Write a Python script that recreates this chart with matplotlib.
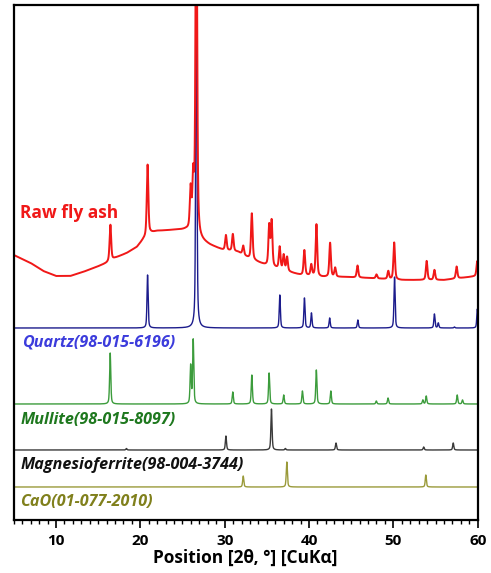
import numpy as np
import matplotlib.pyplot as plt
from matplotlib.ticker import MultipleLocator

plt.rcParams['font.family'] = ['Open Sans', 'DejaVu Sans']

# raw fly ash: background points and peaks (2theta, height above background)
ash_bg_x = [5, 7, 8.5, 10, 11.7, 13.2, 14.8, 16, 17, 18.4, 19.6, 20.3, 21.2, 22, 24, 25.4,
            26.6, 27.1, 28.25, 29.8, 31.6, 32.8, 34.8, 36, 38.1, 39, 41.5, 44, 47, 51, 56, 59, 60]
ash_bg_y = [265, 257, 249, 244, 244, 248, 253, 257, 262, 267, 273, 280, 287, 289, 290, 290,
            287, 280, 275, 270, 268, 262, 255, 252, 247, 245, 243, 243, 242, 240, 240, 243, 244]
ash_pos = [16.45, 20.86, 25.96, 26.27, 26.64, 30.15, 30.97, 32.2, 33.22, 35.28, 35.57, 36.52,
           37.0, 37.4, 39.45, 40.27, 40.88, 42.5, 43.1, 45.75, 48.0, 49.4, 50.1, 53.95,
           54.87, 57.5, 59.95]
ash_h = [36, 71, 40, 50, 400, 15, 17, 9, 46, 40, 45, 22,
         15, 14, 25, 11, 52, 34, 9, 12, 4, 8, 37, 19,
         10, 12, 15]

# reference patterns
quartz_pos = [20.86, 26.64, 36.54, 39.46, 40.29, 42.45, 45.79, 50.14, 54.87, 55.33, 57.24, 59.96]
quartz_h = [53, 400, 33, 30, 15, 10, 8, 51, 14, 5, 1, 19]

mullite_pos = [16.43, 25.97, 26.27, 30.96, 33.22, 35.27, 37.0, 39.22, 40.87, 42.59,
               47.98, 49.37, 53.5, 53.9, 57.57, 58.2]
mullite_h = [51, 38, 64, 12, 29, 31, 9, 13, 34, 13, 3, 6, 4, 8, 9, 4]

mgfe_pos = [18.35, 30.15, 35.55, 37.2, 43.2, 53.6, 57.1]
mgfe_h = [1.5, 14, 41, 1.5, 7, 3, 7]

cao_pos = [32.2, 37.37, 53.85]
cao_h = [11, 25, 12]

offsets = {'quartz': 192, 'mullite': 116, 'mgfe': 70, 'cao': 33}


def pv(x, pos, h, fwhm, eta=0.5):
    y = np.zeros_like(x)
    g = fwhm / 2
    for p, a in zip(pos, h):
        d = x - p
        lor = g**2 / (d**2 + g**2)
        gau = np.exp(-np.log(2) * (d / g)**2)
        y += a * (eta * lor + (1 - eta) * gau)
    return y


x = np.linspace(5, 60, 6001)
ash = np.interp(x, ash_bg_x, ash_bg_y) + pv(x, ash_pos, ash_h, 0.22)

fig = plt.figure(figsize=(4.91, 5.73), dpi=100)
ax = fig.add_axes([0.0281, 0.0925, 0.9448, 0.8988])

ax.plot(x, offsets['cao'] + pv(x, cao_pos, cao_h, 0.16), color='#9a9a3a', lw=1.0)
ax.plot(x, offsets['mgfe'] + pv(x, mgfe_pos, mgfe_h, 0.16), color='#3a3a3a', lw=1.0)
ax.plot(x, offsets['mullite'] + pv(x, mullite_pos, mullite_h, 0.16), color='#3c9c3c', lw=1.0)
ax.plot(x, offsets['quartz'] + pv(x, quartz_pos, quartz_h, 0.16), color='#1c1c8c', lw=1.0)
ax.plot(x, ash, color='#f01818', lw=1.4)

lab = dict(fontsize=11.6, fontweight='bold', style='italic', va='center', ha='left')
ax.text(5.7, 307, 'Raw fly ash', color='#f01818', fontsize=12.5, fontweight='bold',
        va='center', ha='left')
ax.text(5.95, 177, 'Quartz(98-015-6196)', color='#3c3cdc', **lab)
ax.text(5.75, 100, 'Mullite(98-015-8097)', color='#1e781e', **lab)
ax.text(5.75, 55, 'Magnesioferrite(98-004-3744)', color='#111111', **lab)
ax.text(5.75, 18, 'CaO(01-077-2010)', color='#80801c', **lab)

ax.set_xlim(5, 60)
ax.set_ylim(0, 515)
ax.set_yticks([])
ax.xaxis.set_major_locator(MultipleLocator(10))
ax.xaxis.set_minor_locator(MultipleLocator(1))
ax.tick_params(axis='x', which='major', length=6, width=1.2, pad=4, labelsize=11)
ax.tick_params(axis='x', which='minor', length=3, width=1.0)
for t in ax.get_xticklabels():
    t.set_fontweight('bold')
for s in ax.spines.values():
    s.set_linewidth(1.6)
ax.set_xlabel('Position [2θ, °] [CuKα]', fontsize=12.5, fontweight='bold', labelpad=1)

fig.savefig('out.png', dpi=100)
